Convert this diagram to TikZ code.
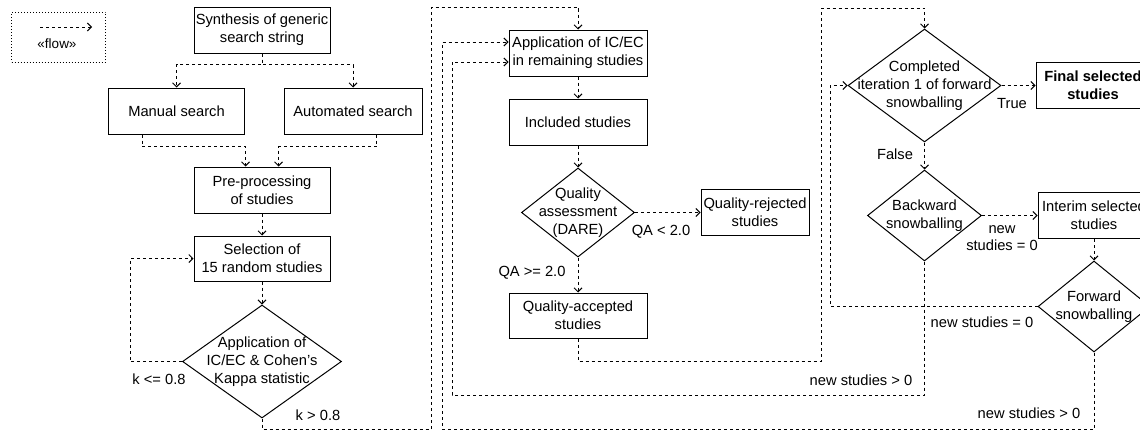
\documentclass[tikz,border=0pt]{standalone}
\usepackage{fontspec}
\setmainfont{Liberation Sans}
\usetikzlibrary{shapes.geometric,arrows.meta,calc}
\newcommand\myfs{\fontsize{14.7}{17.7}\selectfont}
\begin{document}
\begin{tikzpicture}[x=1pt,y=-1pt,line width=1pt,
  box/.style={draw,rectangle,inner sep=0pt,align=center,font=\myfs},
  dia/.style={draw,diamond,inner sep=0pt},
  txt/.style={align=center,font=\myfs,inner sep=0pt},
  lbl/.style={align=center,font=\myfs,inner sep=0pt},
  flow/.style={dash pattern=on 3pt off 3pt,-{Straight Barb[length=4pt,width=8pt]}}]
\useasboundingbox (0,0) rectangle (1140,431);
\clip (0,0) rectangle (1140,431);
% legend
\node[draw,dash pattern=on 1pt off 2pt,minimum width=94pt,minimum height=50pt] (leg) at (58.5,37) {};
\coordinate (la) at (40,27);
\coordinate (lb) at (92,27);
\draw[flow] (la) -- (lb);
\node[txt,font=\fontsize{13.5}{16}\selectfont] (lt) at (57,44) {«flow»};
% left column
\node[box,minimum width=136pt,minimum height=46pt] (syn) at (262,30) {Synthesis of generic\\search string};
\node[box,minimum width=136pt,minimum height=46pt] (man) at (176.5,111) {Manual search};
\node[box,minimum width=138pt,minimum height=46pt] (aut) at (353,111) {Automated search};
\node[box,minimum width=136pt,minimum height=46pt] (pre) at (262,190) {Pre-processing\\of studies};
\node[box,minimum width=136pt,minimum height=45pt] (sel) at (262,258.5) {Selection of\\15 random studies};
\node[dia,minimum width=159pt,minimum height=113pt] (kap) at (262,361.5) {};
\node[txt] (kapt) at (kap) {Application of\\IC/EC \& Cohen's\\Kappa statistic};
% middle column
\node[box,minimum width=138pt,minimum height=46pt] (app) at (578,53) {Application of IC/EC\\in remaining studies};
\node[box,minimum width=138pt,minimum height=46pt] (inc) at (578,122) {Included studies};
\node[dia,minimum width=113pt,minimum height=89pt] (qa) at (578,212.5) {};
\node[txt] (qat) at (qa) {Quality\\assessment\\(DARE)};
\node[box,minimum width=108pt,minimum height=46pt] (rej) at (755,212.5) {Quality-rejected\\studies};
\node[box,minimum width=138pt,minimum height=45pt] (acc) at (578,315.5) {Quality-accepted\\studies};
% right column
\node[dia,minimum width=153pt,minimum height=113pt] (comp) at (924.5,85.5) {};
\node[txt] (compt) at (comp) {Completed\\iteration 1 of forward\\snowballing};
\node[box,minimum width=114pt,minimum height=46pt,font=\myfs\bfseries] (fin) at (1093,85.5) {Final selected\\studies};
\node[dia,minimum width=114pt,minimum height=91pt] (back) at (924.5,215.5) {};
\node[txt] (backt) at (back) {Backward\\snowballing};
\node[box,minimum width=112pt,minimum height=46pt] (int) at (1094,215.5) {Interim selected\\studies};
\node[dia,minimum width=112pt,minimum height=91pt] (fwd) at (1094,306.5) {};
\node[txt] (fwdt) at (fwd) {Forward\\snowballing};
% connectors
\draw[flow] (syn.south) -- ++(0,11) -| (man.north);
\draw[flow] (syn.south) -- ++(0,11) -| (aut.north);
\draw[flow] ($(man.south west)+(34,0)$) -- ++(0,12) -| ($(pre.north west)+(52,0)$);
\draw[flow] ($(aut.south west)+(93,0)$) -- ++(0,12) -| ($(pre.north west)+(85,0)$);
\draw[flow] (pre.south) -- (sel.north);
\draw[flow] (sel.south) -- (kap.north);
\draw[flow] (kap.west) -- ++(-52,0) |- (sel.west);
\draw[flow] (kap.south) |- (431,429) -- (431,7) -| (app.north);
\draw[flow] (app.south) -- (inc.north);
\draw[flow] (inc.south) -- (qa.north);
\draw[flow] (qa.east) -- (rej.west);
\draw[flow] (qa.south) -- (acc.north);
\draw[flow] (acc.south) |- (821,361) -- (821,8) -| (comp.north);
\draw[flow] (comp.east) -- (fin.west);
\draw[flow] (comp.south) -- (back.north);
\draw[flow] (back.east) -- (int.west);
\draw[flow] (int.south) -- (fwd.north);
\draw[flow] (fwd.west) -- (830,306.5) |- (comp.west);
\draw[flow] (back.south) |- (452,395) |- ($(app.west)+(0,9)$);
\draw[flow] (fwd.south) |- (442,429) |- ($(app.west)+(0,-11)$);
% labels
\node[lbl] (l1) at (159,379) {k <= 0.8};
\node[lbl] (l2) at (318,415) {k > 0.8};
\node[lbl] (l3) at (661,232) {QA < 2.0};
\node[lbl] (l4) at (532,273) {QA >= 2.0};
\node[lbl] (l5) at (1012,104) {True};
\node[lbl] (l6) at (895,154) {False};
\node[lbl] (l7) at (1002,238) {new\\studies = 0};
\node[lbl] (l8) at (982,322) {new studies = 0};
\node[lbl] (l9) at (861,380) {new studies > 0};
\node[lbl] (l10) at (1029,413) {new studies > 0};
\end{tikzpicture}
\end{document}
